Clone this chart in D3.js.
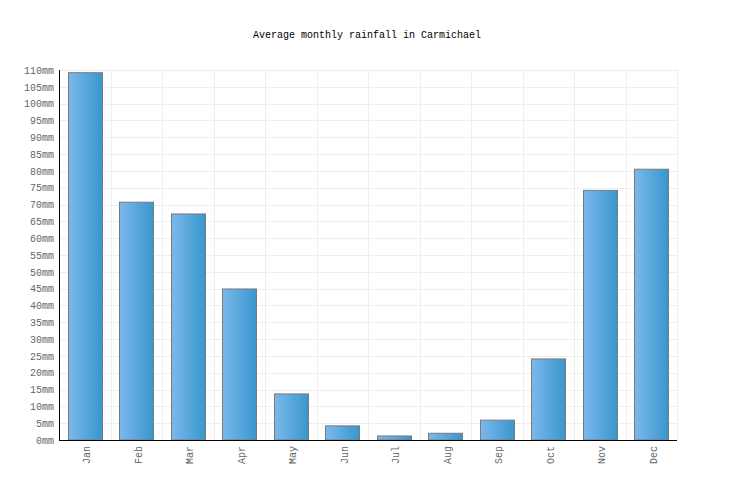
<!DOCTYPE html>
<html lang="en">
<head>
    <meta charset="UTF-8">
    <title>Average monthly rainfall in Carmichael</title>
    <script src="https://d3js.org/d3.v7.min.js"></script>
    <style>
        * { margin: 0; padding: 0; box-sizing: border-box; }
        body { background: #fff; font-family: "Liberation Mono", monospace; }
    </style>
</head>
<body>
    <div id="chart"></div>
    <script>
        // rainfall per month (mm)
        const months = ["Jan", "Feb", "Mar", "Apr", "May", "Jun", "Jul", "Aug", "Sep", "Oct", "Nov", "Dec"];
        const rainfall = [109.2, 70.7, 67.2, 44.9, 13.7, 4.2, 1.2, 2.0, 5.9, 24.1, 74.2, 80.5];
        const yTicks = d3.range(0, 111, 5);

        const margin = { top: 70, right: 59, bottom: 60, left: 59 },
              width = 736 - margin.left - margin.right,
              height = 500 - margin.top - margin.bottom;

        const font = "'Liberation Mono', 'DejaVu Sans Mono', monospace";

        const root = d3.select("#chart").append("svg")
            .attr("width", 736)
            .attr("height", 500);

        const grad = root.append("defs").append("linearGradient")
            .attr("id", "barGrad")
            .attr("x1", "0%").attr("x2", "100%")
            .attr("y1", "0%").attr("y2", "0%");
        grad.append("stop").attr("offset", "0%").attr("stop-color", "#7cb8ec");
        grad.append("stop").attr("offset", "100%").attr("stop-color", "#3797cd");

        root.append("text")
            .attr("x", 367)
            .attr("y", 38)
            .attr("text-anchor", "middle")
            .style("font-family", font)
            .style("font-size", "10px")
            .style("fill", "#000")
            .text("Average monthly rainfall in Carmichael");

        const svg = root.append("g")
            .attr("transform", `translate(${margin.left},${margin.top})`);

        const x = d3.scaleBand()
            .domain(months)
            .range([0, width])
            .paddingInner(0.34)
            .paddingOuter(0.17);

        const y = d3.scaleLinear()
            .domain([0, 110])
            .range([height, 0]);

        // horizontal grid
        svg.append("g")
            .selectAll("line")
            .data(yTicks)
            .join("line")
            .attr("x1", 0).attr("x2", width)
            .attr("y1", d => Math.round(y(d)) + 0.5)
            .attr("y2", d => Math.round(y(d)) + 0.5)
            .attr("stroke", "#eeeeee");

        // vertical grid at band boundaries
        const step = width / months.length;
        svg.append("g")
            .selectAll("line")
            .data(d3.range(1, months.length + 1))
            .join("line")
            .attr("x1", d => Math.round(d * step) + 0.5)
            .attr("x2", d => Math.round(d * step) + 0.5)
            .attr("y1", 0).attr("y2", height)
            .attr("stroke", "#eeeeee");

        svg.selectAll(".bar")
            .data(months.map((m, i) => ({ month: m, value: rainfall[i] })))
            .join("rect")
            .attr("class", "bar")
            .attr("x", d => Math.round(x(d.month)) + 0.5)
            .attr("y", d => y(d.value))
            .attr("width", Math.round(x.bandwidth()))
            .attr("height", d => height - y(d.value))
            .attr("fill", "url(#barGrad)")
            .attr("stroke", "#7a7a7a")
            .attr("stroke-width", 1);

        // y axis
        const yAxis = svg.append("g")
            .call(d3.axisLeft(y).tickValues(yTicks).tickSize(0).tickPadding(5).tickFormat(d => d + "mm"));
        yAxis.select(".domain").remove();
        yAxis.selectAll("text")
            .style("font-family", font)
            .style("font-size", "10px")
            .style("fill", "#666");

        // x axis
        const xAxis = svg.append("g")
            .attr("transform", `translate(0,${height})`)
            .call(d3.axisBottom(x).tickSize(0));
        xAxis.select(".domain").remove();
        xAxis.selectAll("text")
            .style("font-family", font)
            .style("font-size", "10px")
            .style("fill", "#666")
            .attr("transform", "rotate(-90)")
            .attr("text-anchor", "end")
            .attr("x", -6)
            .attr("y", 2)
            .attr("dy", "0.35em");

        // axis lines
        svg.append("line")
            .attr("x1", 0.5).attr("x2", 0.5)
            .attr("y1", 0).attr("y2", height)
            .attr("stroke", "#000");
        svg.append("line")
            .attr("x1", 0).attr("x2", width)
            .attr("y1", height + 0.5).attr("y2", height + 0.5)
            .attr("stroke", "#000");
    </script>
</body>
</html>
